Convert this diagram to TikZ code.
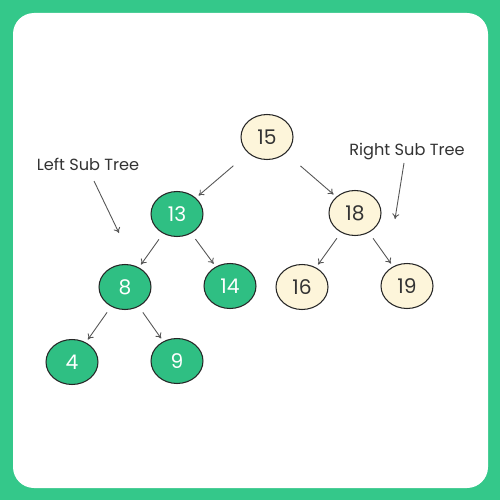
\documentclass[tikz,border=0pt]{standalone}
\usepackage{fontspec}
\setmainfont{Poppins}
\usetikzlibrary{shapes.geometric,arrows.meta}
\definecolor{gfgreen}{HTML}{34C88A}
\definecolor{nodegreen}{HTML}{2FBF83}
\definecolor{cream}{HTML}{FDF5DA}
\definecolor{edgegray}{HTML}{555555}
\definecolor{darktext}{HTML}{333333}
\begin{document}
\begin{tikzpicture}[x=0.02cm,y=-0.02cm,
  treenode/.style={ellipse,draw=black!85,line width=0.6pt,minimum width=1.04cm,minimum height=0.9cm,inner sep=0pt,font=\fontsize{11.5}{13}\selectfont},
  gnode/.style={treenode,fill=nodegreen,text=white},
  cnode/.style={treenode,fill=cream,text=darktext},
  edge/.style={draw=edgegray,line width=0.5pt,-{To[length=3pt,width=4pt]},shorten <=4pt,shorten >=2pt},
  topedge/.style={edge,shorten <=11pt},
  lbl/.style={font=\fontsize{9.2}{11}\selectfont,text=darktext,inner sep=0pt},
  ptr/.style={draw=edgegray,line width=0.5pt,-{To[length=3pt,width=4pt]}}]
\useasboundingbox (0,0) rectangle (500,500);
\fill[gfgreen] (0,0) rectangle (500,500);
\fill[white,rounded corners=0.42cm] (13,13) rectangle (488,488);
\node[cnode] (n15) at (267,137) {15};
\node[gnode] (n13) at (177,214) {13};
\node[cnode] (n18) at (355,213) {18};
\node[gnode] (n8) at (125,287) {8};
\node[gnode] (n14) at (230,286) {14};
\node[cnode] (n16) at (302,287) {16};
\node[cnode] (n19) at (407,286) {19};
\node[gnode] (n4) at (72,362) {4};
\node[gnode] (n9) at (177,361) {9};
\draw[topedge] (n15) -- (n13);
\draw[topedge] (n15) -- (n18);
\draw[edge] (n13) -- (n8);
\draw[edge] (n13) -- (n14);
\draw[edge] (n18) -- (n16);
\draw[edge] (n18) -- (n19);
\draw[edge] (n8) -- (n4);
\draw[edge] (n8) -- (n9);
\node[lbl] (lt) at (88,164) {Left Sub Tree};
\node[lbl] (rt) at (407,152) {Right Sub Tree};
\coordinate (lts) at (94,181);
\coordinate (lte) at (119,233);
\coordinate (rts) at (404,163);
\coordinate (rte) at (395,219);
\draw[ptr] (lts) -- (lte);
\draw[ptr] (rts) -- (rte);
\end{tikzpicture}
\end{document}
